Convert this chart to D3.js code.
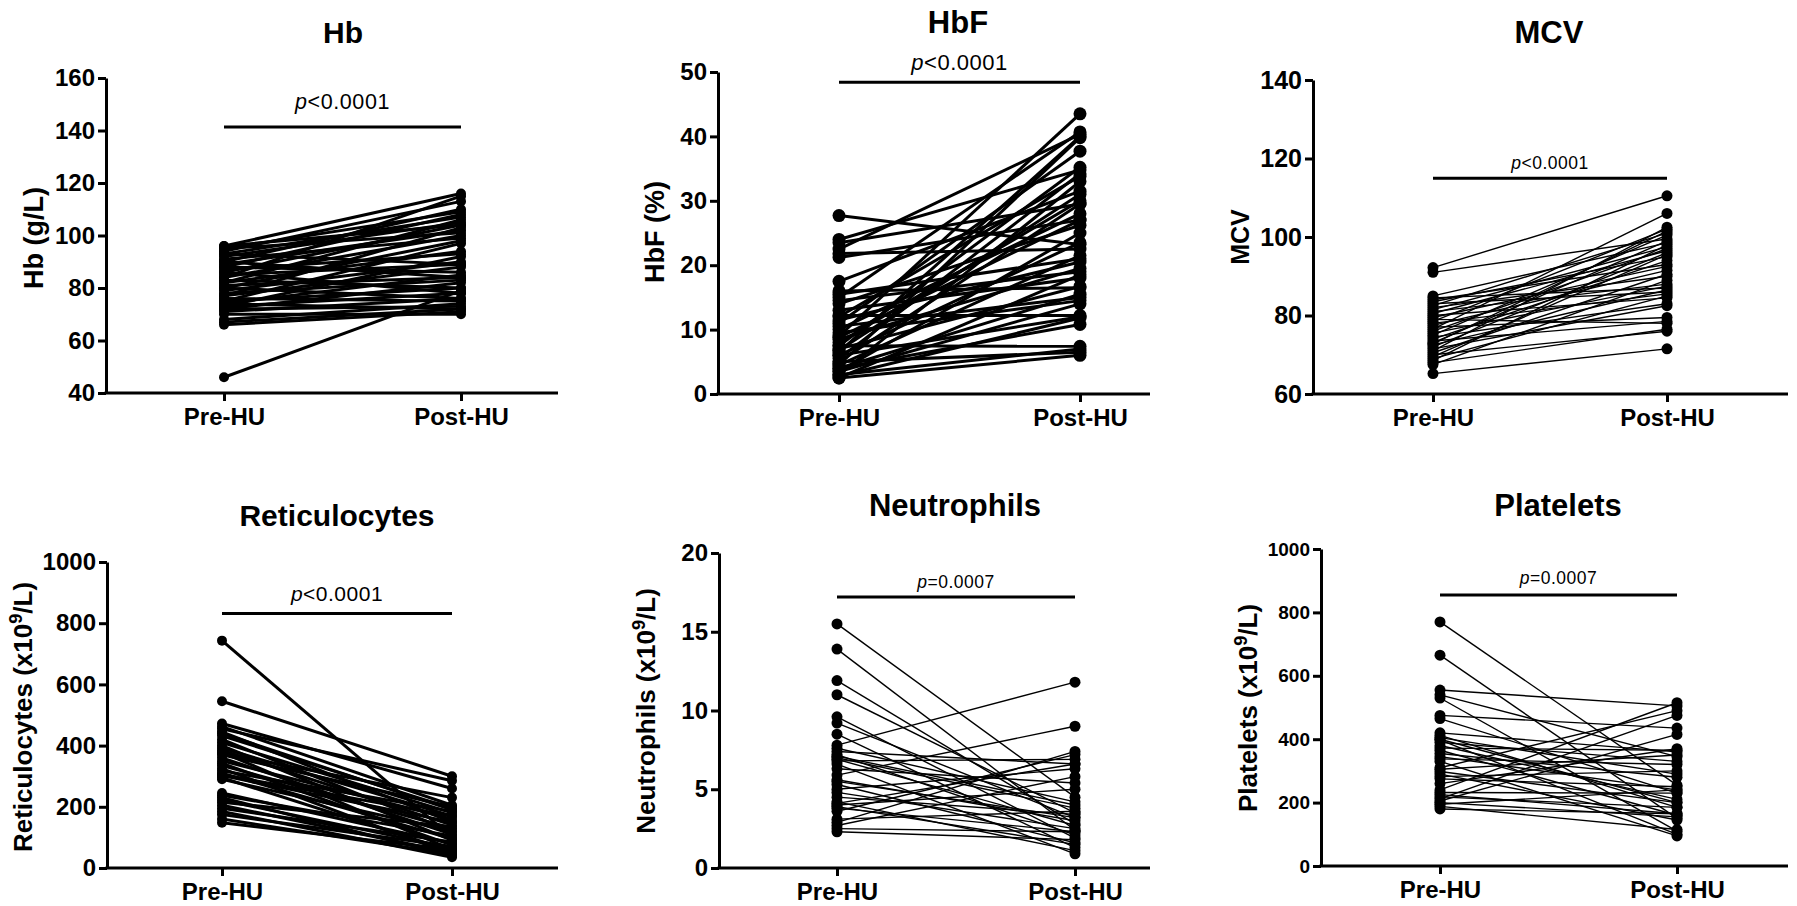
<!DOCTYPE html>
<html>
<head>
<meta charset="utf-8">
<script src="https://cdn.jsdelivr.net/npm/d3@7"></script>
<style>
  body { margin: 0; background: #fff; }
  svg text { font-family: "Liberation Sans", Arial, sans-serif; fill: #000; }
</style>
</head>
<body>
<div id="chart"></div>
<script>
// Chart size
const width = 1797;
const height = 906;

const groups = ['Pre-HU', 'Post-HU'];

// Hb (g/L)
const hbPre  = [46, 66, 67, 68, 70, 71, 72, 72, 73, 73, 74, 74, 75, 75, 76, 77, 77, 78, 79, 80, 80, 81, 82, 82, 83, 84, 84, 85, 86, 86, 87, 88, 88, 89, 90, 90, 91, 92, 93, 93, 94, 95, 96, 96, 95];
const hbPost = [79, 71, 72, 74, 70, 76, 73, 82, 78, 92, 85, 72, 80, 97, 75, 88, 103, 83, 90, 76, 98, 84, 94, 106, 80, 115, 100, 89, 104, 78, 93, 108, 86, 102, 110, 84, 99, 105, 89, 107, 113, 109, 116, 104, 101];

// HbF (%)
const hbfPre  = [27.7, 24.0, 23.5, 22.5, 21.8, 21.2, 17.5, 16.0, 15.5, 15.0, 14.5, 14.0, 13.0, 12.2, 12.0, 11.5, 11.0, 10.5, 10.0, 9.5, 9.0, 8.5, 8.0, 7.5, 7.5, 7.0, 6.5, 6.0, 6.0, 5.5, 5.0, 5.0, 4.5, 4.5, 4.0, 4.0, 3.5, 3.5, 3.0, 3.0, 2.5, 2.5, 2.8, 6.8, 8.8];
const hbfPost = [23.2, 34.8, 29.5, 40.3, 22.5, 27.0, 31.5, 16.5, 21.0, 40.7, 19.0, 26.2, 18.0, 12.2, 33.8, 20.5, 37.7, 15.0, 28.0, 14.5, 43.5, 19.5, 30.0, 7.4, 35.2, 16.7, 40.0, 23.5, 12.0, 34.2, 29.5, 6.5, 21.5, 39.8, 15.5, 10.8, 25.0, 14.0, 33.0, 7.0, 6.0, 18.5, 11.8, 31.0, 27.0];

// MCV
const mcvPre  = [92.2, 91.0, 85.0, 84.5, 84.0, 83.5, 83.0, 82.5, 82.0, 81.0, 80.5, 80.0, 79.0, 78.5, 78.0, 77.5, 77.0, 76.5, 76.0, 75.5, 75.0, 74.5, 74.0, 73.5, 73.0, 72.5, 72.0, 71.5, 71.0, 70.5, 70.0, 69.5, 69.0, 68.5, 68.0, 67.5, 65.2, 72.8, 79.5, 81.5];
const mcvPost = [110.5, 99.5, 98.5, 87.0, 93.0, 95.0, 86.0, 101.0, 90.0, 88.0, 96.5, 84.5, 78.0, 102.0, 85.5, 91.5, 79.5, 106.0, 97.0, 87.5, 100.5, 83.0, 94.0, 78.5, 99.0, 86.5, 96.0, 82.5, 102.5, 90.5, 76.0, 95.5, 85.0, 98.0, 76.5, 89.0, 71.5, 101.5, 92.5, 97.5];

// Reticulocytes (x10^9/L)
const retPre  = [743, 545, 472, 462, 455, 445, 432, 420, 410, 400, 392, 385, 378, 370, 360, 350, 342, 335, 325, 318, 310, 302, 295, 290, 245, 238, 230, 222, 215, 205, 195, 185, 175, 160, 148, 305, 375, 440];
const retPost = [100, 300, 260, 205, 285, 150, 195, 120, 180, 90, 170, 140, 60, 200, 110, 160, 75, 130, 45, 185, 95, 150, 55, 120, 80, 105, 40, 65, 135, 50, 85, 35, 70, 45, 60, 170, 230, 190];

// Neutrophils (x10^9/L)
const neuPre  = [15.5, 13.9, 11.9, 11.0, 9.6, 9.2, 8.5, 7.8, 7.6, 7.4, 7.2, 7.0, 6.8, 6.6, 6.3, 5.9, 5.6, 5.3, 5.0, 4.8, 4.5, 4.2, 4.0, 3.8, 3.6, 3.1, 2.9, 2.7, 2.5, 2.3, 4.1, 5.5, 6.9, 7.1, 3.9];
const neuPost = [4.5, 2.4, 2.8, 3.5, 1.9, 3.2, 1.3, 11.8, 4.2, 6.6, 2.1, 3.8, 6.9, 0.9, 5.4, 9.0, 3.0, 1.6, 6.3, 2.5, 3.4, 1.1, 5.0, 2.3, 7.2, 3.6, 7.4, 5.8, 2.3, 1.8, 6.6, 3.2, 2.7, 4.0, 1.5];

// Platelets (x10^9/L)
const pltPre  = [770, 665, 555, 540, 530, 475, 465, 420, 412, 405, 398, 390, 380, 372, 365, 355, 345, 338, 330, 305, 298, 290, 282, 275, 240, 232, 225, 218, 212, 205, 200, 195, 188, 180, 310, 260, 400];
const pltPost = [255, 150, 505, 345, 110, 435, 230, 360, 185, 290, 100, 330, 210, 365, 160, 280, 240, 320, 95, 350, 200, 145, 300, 250, 515, 230, 165, 185, 475, 415, 155, 240, 115, 165, 490, 370, 200];

// Panel settings
const panels = [
  { title: 'Hb', yTitle: 'Hb (g/L)', pre: hbPre, post: hbPost, domain: [40, 160], ticks: [40, 60, 80, 100, 120, 140, 160],
    axisX: 106, yTop: 78, yBottom: 393, preX: 224, postX: 461, axisEnd: 558,
    titleX: 343, titleY: 43, titleFs: 30, yTitleX: 34, yTitleY: 238, yTitleFs: 27, tickFs: 24,
    pText: '<0.0001', bracket: 141.3, pGap: 18, pFs: 21.5, pLs: 0.6, lineW: 3, r: 5 },
  { title: 'HbF', yTitle: 'HbF (%)', pre: hbfPre, post: hbfPost, domain: [0, 50], ticks: [0, 10, 20, 30, 40, 50],
    axisX: 718, yTop: 72, yBottom: 394, preX: 839, postX: 1080, axisEnd: 1150,
    titleX: 958, titleY: 33, titleFs: 31, yTitleX: 655, yTitleY: 232, yTitleFs: 27, tickFs: 24,
    pText: '<0.0001', bracket: 48.4, pGap: 12, pFs: 22, pLs: 0.5, lineW: 3, r: 6.5 },
  { title: 'MCV', yTitle: 'MCV', pre: mcvPre, post: mcvPost, domain: [60, 140], ticks: [60, 80, 100, 120, 140],
    axisX: 1313, yTop: 80, yBottom: 394, preX: 1433, postX: 1667, axisEnd: 1788,
    titleX: 1549, titleY: 43, titleFs: 31, yTitleX: 1240, yTitleY: 237, yTitleFs: 25, tickFs: 25,
    pText: '<0.0001', bracket: 115, pGap: 9, pFs: 17.5, pLs: 0.5, lineW: 1.4, r: 5.5 },
  { title: 'Reticulocytes', yTitle: 'Reticulocytes (x10^9/L)', pre: retPre, post: retPost, domain: [0, 1000], ticks: [0, 200, 400, 600, 800, 1000],
    axisX: 107, yTop: 562, yBottom: 868, preX: 222, postX: 452, axisEnd: 558,
    titleX: 337, titleY: 526, titleFs: 30, yTitleX: 23, yTitleY: 717, yTitleFs: 26, tickFs: 24,
    pText: '<0.0001', bracket: 832, pGap: 12, pFs: 21, pLs: 0.5, lineW: 3, r: 5 },
  { title: 'Neutrophils', yTitle: 'Neutrophils (x10^9/L)', pre: neuPre, post: neuPost, domain: [0, 20], ticks: [0, 5, 10, 15, 20],
    axisX: 719, yTop: 553, yBottom: 868, preX: 837, postX: 1075, axisEnd: 1150,
    titleX: 955, titleY: 516, titleFs: 31, yTitleX: 646, yTitleY: 711, yTitleFs: 26, tickFs: 24,
    pText: '=0.0007', bracket: 17.2, pGap: 9, pFs: 17.5, pLs: 0.5, lineW: 1.4, r: 5.5 },
  { title: 'Platelets', yTitle: 'Platelets (x10^9/L)', pre: pltPre, post: pltPost, domain: [0, 1000], ticks: [0, 200, 400, 600, 800, 1000],
    axisX: 1321, yTop: 549, yBottom: 866, preX: 1440, postX: 1677, axisEnd: 1788,
    titleX: 1558, titleY: 516, titleFs: 31, yTitleX: 1248, yTitleY: 708, yTitleFs: 26, tickFs: 19,
    pText: '=0.0007', bracket: 855, pGap: 11, pFs: 17.5, pLs: 0.5, lineW: 1.4, r: 5.5 },
];

const svg = d3.select('div#chart').append('svg').attr('width', width).attr('height', height);

panels.forEach(p => drawPanel(p));

function drawPanel(p) {
  const g = svg.append('g').attr('class', 'panel');
  const y = d3.scaleLinear().domain(p.domain).range([p.yBottom, p.yTop]);
  const x = d3.scalePoint().domain(groups).range([p.preX, p.postX]);

  // paired lines
  const pairs = p.pre.map((v, i) => [v, p.post[i]]);
  const line = d3.line().x(d => x(d.g)).y(d => y(d.v));
  g.append('g').selectAll('path').data(pairs).join('path')
    .attr('d', d => line([{ g: groups[0], v: d[0] }, { g: groups[1], v: d[1] }]))
    .attr('fill', 'none').attr('stroke', '#000').attr('stroke-width', p.lineW);

  // dots
  const dots = pairs.flatMap(d => [{ g: groups[0], v: d[0] }, { g: groups[1], v: d[1] }]);
  g.append('g').selectAll('circle').data(dots).join('circle')
    .attr('cx', d => x(d.g)).attr('cy', d => y(d.v)).attr('r', p.r).attr('fill', '#000');

  // y axis
  const yAxis = d3.axisLeft(y).tickValues(p.ticks).tickSize(8).tickSizeOuter(0).tickPadding(3).tickFormat(d3.format('d'));
  const yg = g.append('g').attr('transform', `translate(${p.axisX},0)`).call(yAxis);
  yg.attr('font-family', null).attr('font-size', null);
  yg.select('.domain').attr('stroke-width', 3);
  yg.selectAll('.tick line').attr('stroke-width', 3);
  yg.selectAll('.tick text').attr('font-size', p.tickFs).attr('font-weight', 'bold');

  // x axis
  const xAxis = d3.axisBottom(x).tickSize(8).tickSizeOuter(0);
  const xg = g.append('g').attr('transform', `translate(0,${p.yBottom})`).call(xAxis);
  xg.attr('font-family', null).attr('font-size', null);
  xg.select('.domain').remove();
  xg.append('line').attr('x1', p.axisX - 1.5).attr('x2', p.axisEnd).attr('stroke', '#000').attr('stroke-width', 3);
  xg.selectAll('.tick line').attr('stroke-width', 3);
  xg.selectAll('.tick text').attr('y', 32).attr('dy', 0).attr('font-size', 24).attr('font-weight', 'bold');

  // title
  g.append('text').attr('x', p.titleX).attr('y', p.titleY).attr('text-anchor', 'middle')
    .attr('font-size', p.titleFs).attr('font-weight', 'bold').text(p.title);

  // y title (with superscript 9)
  const yt = g.append('text').attr('text-anchor', 'middle').attr('font-size', p.yTitleFs).attr('font-weight', 'bold')
    .attr('transform', `translate(${p.yTitleX},${p.yTitleY}) rotate(-90)`).attr('dy', '0.35em');
  const parts = p.yTitle.split('^9');
  yt.append('tspan').text(parts[0]);
  if (parts.length > 1) {
    yt.append('tspan').attr('dy', -0.4 * p.yTitleFs).attr('font-size', 0.7 * p.yTitleFs).text('9');
    yt.append('tspan').attr('dy', 0.4 * p.yTitleFs).text(parts[1]);
  }

  // significance bracket
  const by = y(p.bracket);
  g.append('line').attr('x1', x(groups[0])).attr('x2', x(groups[1])).attr('y1', by).attr('y2', by)
    .attr('stroke', '#000').attr('stroke-width', 3);
  const pt = g.append('text').attr('x', (x(groups[0]) + x(groups[1])) / 2).attr('y', by - p.pGap)
    .attr('text-anchor', 'middle').attr('font-size', p.pFs).attr('letter-spacing', p.pLs);
  pt.append('tspan').attr('font-style', 'italic').text('p');
  pt.append('tspan').text(p.pText);
}
</script>
</body>
</html>
